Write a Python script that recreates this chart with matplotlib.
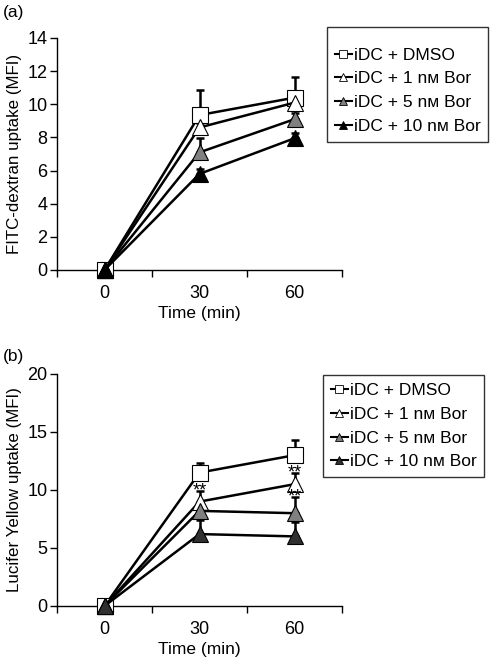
import matplotlib.pyplot as plt
from matplotlib.lines import Line2D

plt.rcParams['font.family'] = ['Liberation Sans', 'DejaVu Sans']

times = ["0", "30", "60"]
labels = ["iDC + DMSO", "iDC + 1 nм Bor", "iDC + 5 nм Bor", "iDC + 10 nм Bor"]

# panel (a) FITC-dextran
fitc_means = [
    [0, 9.35, 10.4],
    [0, 8.6, 10.1],
    [0, 7.1, 9.1],
    [0, 5.8, 7.95],
]
fitc_err = [
    [0, 1.5, 1.25],
    [0, 0.3, 0.3],
    [0, 0.85, 0.4],
    [0, 0.3, 0.3],
]

# panel (b) Lucifer Yellow
ly_means = [
    [0, 11.5, 13.0],
    [0, 9.0, 10.5],
    [0, 8.2, 8.0],
    [0, 6.2, 6.0],
]
ly_err = [
    [0, 0.8, 1.3],
    [0, 0.9, 1.0],
    [0, 0.6, 1.4],
    [0, 1.2, 1.2],
]
# significance marks (series index, time index)
ly_stars = [(1, 1), (1, 2), (2, 2)]

markers = ["s", "^", "^", "^"]
fills_a = ["white", "white", "#808080", "black"]
fills_b = ["white", "white", "#808080", "#303030"]

fig = plt.figure(figsize=(4.9, 6.58), dpi=100)
ax_a = fig.add_axes([57 / 490, 1 - 270 / 658, 285 / 490, 232 / 658])
ax_b = fig.add_axes([57 / 490, 1 - 606 / 658, 285 / 490, 232 / 658])


def draw_panel(ax, means, errs, fills, ymax, ystep, ylabel):
    x = range(len(times))
    for i in range(len(means)):
        ax.errorbar(x, means[i], yerr=[[0] * len(errs[i]), errs[i]],
                    fmt="none", ecolor="black", elinewidth=1.8, capsize=3,
                    capthick=1.8, zorder=2)
    for i in range(len(means)):
        ax.plot(x, means[i], color="black", lw=1.8, marker=markers[i],
                markersize=11, markerfacecolor=fills[i],
                markeredgecolor="black", markeredgewidth=0.8,
                zorder=3 + i * 0.1, clip_on=False)
    ax.set_xlim(-0.5, 2.5)
    ax.set_ylim(0, ymax)
    ax.set_yticks(range(0, ymax + 1, ystep))
    ax.set_xticks(list(x))
    ax.set_xticklabels(times)
    ax.set_xticks([-0.5, 0.5, 1.5, 2.5], minor=True)
    ax.tick_params(axis="x", which="major", length=0, pad=11, labelsize=13)
    ax.tick_params(axis="x", which="minor", length=5, width=1, direction="out")
    ax.tick_params(axis="y", length=5, width=1, labelsize=13, pad=2)
    for s in ["top", "right"]:
        ax.spines[s].set_visible(False)
    for s in ["left", "bottom"]:
        ax.spines[s].set_linewidth(1)
        ax.spines[s].set_zorder(1)
    ax.set_ylabel(ylabel, fontsize=12.2, labelpad=4)
    ax.set_xlabel("Time (min)", fontsize=12.5, labelpad=3)


def legend_for(fills, left, top, title=None):
    handles = []
    for i in range(len(labels)):
        handles.append(Line2D([], [], color="black", lw=1.5, marker=markers[i],
                              markersize=6, markerfacecolor=fills[i],
                              markeredgecolor="black", markeredgewidth=0.6))
    leg = fig.legend(handles, labels, loc="upper left",
                     bbox_to_anchor=(left / 490, 1 - top / 658),
                     fontsize=12.5, frameon=True, fancybox=False,
                     handlelength=1.0, handletextpad=0.1, labelspacing=0.5,
                     borderpad=0.45, borderaxespad=0,
                     title=title, title_fontsize=3)
    leg.get_frame().set_edgecolor("black")
    leg.get_frame().set_linewidth(1)


draw_panel(ax_a, fitc_means, fitc_err, fills_a, 14, 2, "FITC-dextran uptake (MFI)")
draw_panel(ax_b, ly_means, ly_err, fills_b, 20, 5, "Lucifer Yellow uptake (MFI)")

for si, ti in ly_stars:
    ax_b.annotate("**", (ti, ly_means[si][ti] + ly_err[si][ti]), xytext=(0, 0),
                  textcoords="offset points", ha="center", va="center",
                  fontsize=13, zorder=6)

legend_for(fills_a, 327, 27, title=" ")
legend_for(fills_b, 323, 375)

fig.text(3 / 490, 1 - 13 / 658, "(a)", fontsize=12.5, va="center")
fig.text(3 / 490, 1 - 356 / 658, "(b)", fontsize=12.5, va="center")

fig.savefig("out.png", dpi=100)
